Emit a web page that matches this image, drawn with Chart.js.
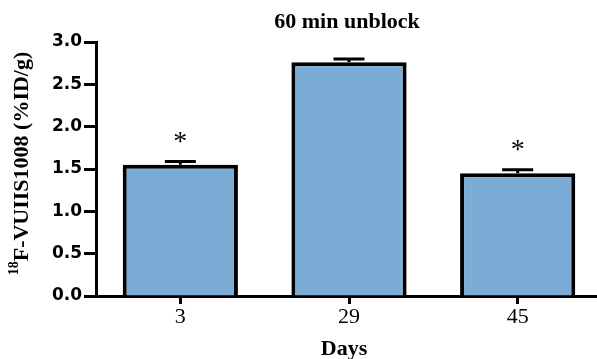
<!DOCTYPE html>
<html>
<head>
<meta charset="utf-8">
<script src="https://cdn.jsdelivr.net/npm/chart.js@4/dist/chart.umd.min.js"></script>
<style>
  html, body { margin: 0; padding: 0; background: #fff; overflow: hidden; }
  canvas { display: block; }
</style>
</head>
<body>
<!-- the plot runs a few pixels past the right edge of the window -->
<canvas id="c" width="602" height="359"></canvas>
<script>
// Tracer uptake per time point, mean with SEM
const days = ['3', '29', '45'];
const uptake = [1.55, 2.76, 1.45];
const sem = [0.04, 0.04, 0.04];
const significance = ['*', '', '*'];
const yTicks = [0, 0.5, 1.0, 1.5, 2.0, 2.5, 3.0];

const chartTitle = '60 min unblock';
const xTitle = 'Days';
const yTitleSup = '18';
const yTitleMain = 'F-VUIIS1008 (%ID/g)';

// Error bars (upper half only) and significance marks
const errorBarPlugin = {
  id: 'errorBars',
  afterDatasetsDraw(chart) {
    const ctx = chart.ctx;
    const yScale = chart.scales.y;
    const meta = chart.getDatasetMeta(0);
    ctx.save();
    ctx.strokeStyle = '#000';
    ctx.fillStyle = '#000';
    ctx.lineWidth = 3;
    meta.data.forEach((bar, i) => {
      const top = yScale.getPixelForValue(uptake[i] + sem[i]);
      ctx.beginPath();
      ctx.moveTo(bar.x, bar.y);
      ctx.lineTo(bar.x, top);
      ctx.moveTo(bar.x - 15.5, top);
      ctx.lineTo(bar.x + 15.5, top);
      ctx.stroke();
      if (significance[i]) {
        ctx.font = '28px "Liberation Serif"';
        ctx.textAlign = 'center';
        ctx.textBaseline = 'alphabetic';
        ctx.fillText(significance[i], bar.x, top - 11.5);
      }
    });
    ctx.restore();
  }
};

// Chart title, x title and the y title with its superscript mass number
const titlesPlugin = {
  id: 'titles',
  afterDraw(chart) {
    const ctx = chart.ctx;
    ctx.save();
    ctx.fillStyle = '#000';
    ctx.textBaseline = 'alphabetic';
    ctx.textAlign = 'center';
    ctx.font = 'bold 22px "Liberation Serif"';
    ctx.fillText(chartTitle, 347, 28);
    ctx.fillText(xTitle, 344, 355);

    ctx.translate(21, 163.5);
    ctx.rotate(-Math.PI / 2);
    ctx.textAlign = 'left';
    ctx.font = 'bold 14px "Liberation Serif"';
    const wSup = ctx.measureText(yTitleSup).width;
    ctx.font = 'bold 22px "Liberation Serif"';
    const wMain = ctx.measureText(yTitleMain).width;
    const x0 = -(wSup + wMain) / 2;
    ctx.font = 'bold 14px "Liberation Serif"';
    ctx.fillText(yTitleSup, x0, -3);
    ctx.font = 'bold 22px "Liberation Serif"';
    ctx.fillText(yTitleMain, x0 + wSup, 7);
    ctx.restore();
  }
};

new Chart(document.getElementById('c'), {
  type: 'bar',
  data: {
    labels: days,
    datasets: [{
      data: uptake,
      backgroundColor: '#7BACD6',
      borderColor: '#000',
      borderWidth: 4,
      borderSkipped: 'bottom',
      categoryPercentage: 1.0,
      barPercentage: 0.683
    }]
  },
  options: {
    responsive: false,
    animation: false,
    events: [],
    layout: { padding: { left: 0, right: 0, top: 42, bottom: 0 } },
    plugins: {
      legend: { display: false },
      title: { display: false },
      tooltip: { enabled: false }
    },
    scales: {
      x: {
        offset: true,
        border: { display: true, color: '#000', width: 3 },
        grid: {
          offset: false,
          drawOnChartArea: false,
          drawTicks: true,
          tickLength: 8,
          tickColor: '#000',
          tickWidth: 3
        },
        ticks: {
          color: '#000',
          padding: 0,
          maxRotation: 0,
          font: { family: '"Liberation Serif"', size: 22 }
        },
        afterFit(scale) {
          scale.height = 63;
          scale.paddingLeft = 0;
          scale.paddingRight = 0;
        }
      },
      y: {
        min: 0,
        max: 3,
        border: { display: true, color: '#000', width: 3 },
        grid: {
          drawOnChartArea: false,
          drawTicks: true,
          tickLength: 12,
          tickColor: '#000',
          tickWidth: 3
        },
        ticks: {
          color: '#000',
          padding: 2,
          font: { family: '"DejaVu Sans"', size: 17, weight: 'bold' },
          callback: v => Number(v).toFixed(1)
        },
        afterBuildTicks(scale) {
          scale.ticks = yTicks.map(v => ({ value: v }));
        },
        afterFit(scale) {
          scale.width = 96;
        }
      }
    }
  },
  plugins: [errorBarPlugin, titlesPlugin]
});
</script>
</body>
</html>
